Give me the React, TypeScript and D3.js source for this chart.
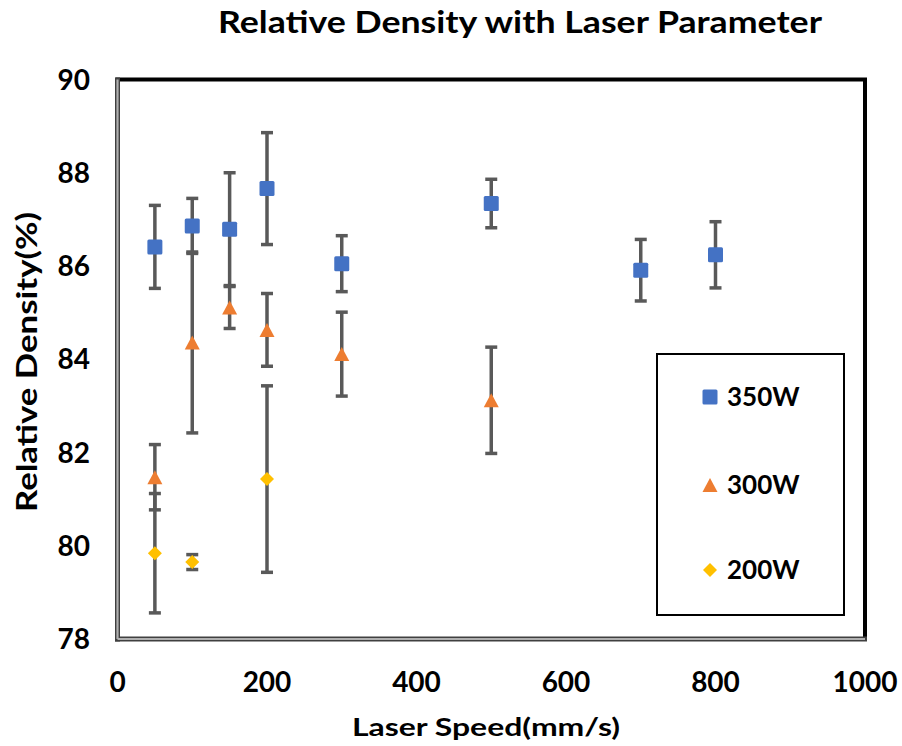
import React from "react";
import * as d3 from "d3";

const seriesNames = ["350W", "300W", "200W"];
const seriesColors = ["#4472C4", "#ED7D31", "#FFC000"];

const speeds350 = [50, 100, 150, 200, 300, 500, 700, 800];
const density350 = [86.41, 86.86, 86.79, 87.66, 86.05, 87.34, 85.91, 86.24];
const err350 = [0.89, 0.59, 1.21, 1.2, 0.6, 0.52, 0.66, 0.71];

const speeds300 = [50, 100, 150, 200, 300, 500];
const density300 = [81.47, 84.36, 85.11, 84.63, 84.11, 83.12];
const err300 = [0.7, 1.94, 0.45, 0.78, 0.9, 1.14];

const speeds200 = [50, 100, 200];
const density200 = [79.84, 79.65, 81.43];
const err200 = [1.28, 0.16, 2.0];

const xTicks = [0, 200, 400, 600, 800, 1000];
const yTicks = [78, 80, 82, 84, 86, 88, 90];

const titleText = "Relative Density with Laser Parameter";
const xTitle = "Laser Speed(mm/s)";
const yTitle = "Relative Density(%)";

const W = 902, H = 746;
const L = 117.5, R = 865, T = 79.5, B = 639;
const FONT = "Lato, 'Open Sans', sans-serif";

function marker(kind: string, cx: number, cy: number, color: string, key: string) {
  if (kind === "square") {
    const s = 15;
    return <rect key={key} x={cx - s / 2} y={cy - s / 2} width={s} height={s} rx={1.5} fill={color} />;
  }
  if (kind === "triangle") {
    const w = 15, h = 14;
    return <path key={key} d={`M${cx},${cy - h / 2}L${cx + w / 2},${cy + h / 2}L${cx - w / 2},${cy + h / 2}Z`} fill={color} />;
  }
  const w = 14, h = 14;
  return <path key={key} d={`M${cx},${cy - h / 2}L${cx + w / 2},${cy}L${cx},${cy + h / 2}L${cx - w / 2},${cy}Z`} fill={color} />;
}

export default function App() {
  const x = d3.scaleLinear().domain([0, 1000]).range([L, R]);
  const y = d3.scaleLinear().domain([78, 90]).range([B, T]);

  const series = [
    { name: seriesNames[0], color: seriesColors[0], kind: "square", xs: speeds350, ys: density350, es: err350 },
    { name: seriesNames[1], color: seriesColors[1], kind: "triangle", xs: speeds300, ys: density300, es: err300 },
    { name: seriesNames[2], color: seriesColors[2], kind: "diamond", xs: speeds200, ys: density200, es: err200 },
  ];

  const errColor = "#595959";
  const capW = 12;

  return (
    <svg width={W} height={H} style={{ position: "absolute", left: 0, top: 0, background: "#fff" }}>
      <rect x={0} y={0} width={W} height={H} fill="#fff" />
      <text x={520} y={33} textAnchor="middle" fontFamily={FONT} fontWeight={700} fontSize={30}
        textLength={604} lengthAdjust="spacingAndGlyphs" fill="#000">{titleText}</text>

      {/* plot border */}
      <rect x={L} y={T} width={R - L} height={B - T} fill="#fff" stroke="#000" strokeWidth={4} />
      <line x1={L} x2={L} y1={T - 2} y2={B + 2.5} stroke="#404040" strokeWidth={5} />
      <line x1={L - 2.5} x2={R + 2} y1={B} y2={B} stroke="#404040" strokeWidth={5} />
      <line x1={L} x2={L} y1={T} y2={B} stroke="#b0b0b0" strokeWidth={2.2} />
      <line x1={L} x2={R} y1={B} y2={B} stroke="#b0b0b0" strokeWidth={2.2} />

      {/* tick labels */}
      {yTicks.map((t) => (
        <text key={"y" + t} x={90} y={y(t)} dy="0.36em" textAnchor="end" fontFamily={FONT}
          fontWeight={700} fontSize={28} fill="#000">{t}</text>
      ))}
      {xTicks.map((t) => (
        <text key={"x" + t} x={x(t)} y={692} textAnchor="middle" fontFamily={FONT}
          fontWeight={700} fontSize={28} fill="#000">{t}</text>
      ))}

      <text x={486} y={736} textAnchor="middle" fontFamily={FONT} fontWeight={700} fontSize={25}
        textLength={268} lengthAdjust="spacingAndGlyphs" fill="#000">{xTitle}</text>
      <text transform={`translate(37,${362}) rotate(-90)`} textAnchor="middle" fontFamily={FONT}
        fontWeight={700} fontSize={29} textLength={300} lengthAdjust="spacingAndGlyphs" fill="#000">{yTitle}</text>

      {/* error bars */}
      {series.map((s) => s.xs.map((xv, i) => {
        const cx = x(xv);
        const y1 = y(s.ys[i] + s.es[i]);
        const y2 = y(s.ys[i] - s.es[i]);
        return (
          <g key={s.name + "e" + i} stroke={errColor}>
            <line x1={cx} x2={cx} y1={y1} y2={y2} strokeWidth={3.5} />
            <line x1={cx - capW / 2} x2={cx + capW / 2} y1={y1} y2={y1} strokeWidth={3.5} />
            <line x1={cx - capW / 2} x2={cx + capW / 2} y1={y2} y2={y2} strokeWidth={3.5} />
          </g>
        );
      }))}

      {/* markers */}
      {series.map((s) => s.xs.map((xv, i) => marker(s.kind, x(xv), y(s.ys[i]), s.color, s.name + "m" + i)))}

      {/* legend */}
      <rect x={657} y={354} width={187} height={261} fill="#fff" stroke="#000" strokeWidth={2} />
      {series.map((s, i) => {
        const ly = [397, 485, 570][i];
        return (
          <g key={"lg" + i}>
            {marker(s.kind, 710, ly, s.color, "lm" + i)}
            <text x={727} y={ly} dy="0.36em" fontFamily={FONT} fontWeight={700} fontSize={26} fill="#000">{s.name}</text>
          </g>
        );
      })}
    </svg>
  );
}
